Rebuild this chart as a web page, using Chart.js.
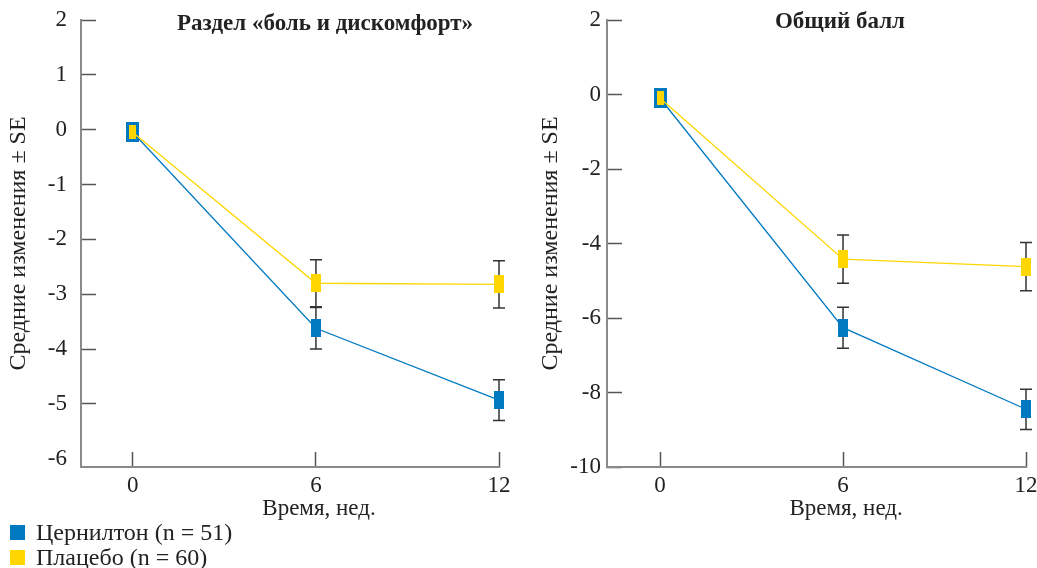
<!DOCTYPE html>
<html>
<head>
<meta charset="utf-8">
<script src="https://cdn.jsdelivr.net/npm/chart.js"></script>
<style>
    body { margin: 0; background: #fff; width: 1037px; height: 568px; position: relative; overflow: hidden;
           font-family: "Liberation Serif", "DejaVu Serif", serif; }
    #chartDolor { position: absolute; left: 0; top: 0; }
    #chartTotal { position: absolute; left: 532px; top: 0; }
    #legend { position: absolute; left: 10px; top: 520px; font-size: 24px; color: #222; }
    .item { display: flex; align-items: center; height: 25px; }
    .box { width: 15px; height: 15px; margin-right: 11px; }
</style>
</head>
<body>
<canvas id="chartDolor" width="520" height="520"></canvas>
<canvas id="chartTotal" width="505" height="520"></canvas>
<div id="legend"></div>
<script>
// ── DATOS ──
const weeks = [0, 6, 12];
const xTicks = [0, 6, 12];
const seriesNames = ["Цернилтон (n = 51)", "Плацебо (n = 60)"];
const seriesColors = ["#0079c1", "#ffd600"];

const painTitle = "Раздел «боль и дискомфорт»";
const painTicks = [-6, -5, -4, -3, -2, -1, 0, 1, 2];
const painCernilton = [-0.05, -3.62, -4.93];
const painCerniltonSE = [0, 0.38, 0.37];
const painPlacebo = [-0.05, -2.80, -2.82];
const painPlaceboSE = [0, 0.43, 0.43];

const totalTitle = "Общий балл";
const totalTicks = [-10, -8, -6, -4, -2, 0, 2];
const totalCernilton = [-0.10, -6.26, -8.45];
const totalCerniltonSE = [0, 0.55, 0.54];
const totalPlacebo = [-0.10, -4.42, -4.62];
const totalPlaceboSE = [0, 0.65, 0.65];

const yTitle = "Средние изменения ± SE";
const xTitle = "Время, нед.";

const FONT = "'Liberation Serif', 'DejaVu Serif', serif";
const TEXT = "#222";
const AXIS = "#8a8a8a";

// marcadores rectangulares (más altos que anchos)
function rectImg(w, h, color) {
    const c = document.createElement("canvas");
    c.width = w; c.height = h;
    const g = c.getContext("2d");
    g.fillStyle = color;
    g.fillRect(0, 0, w, h);
    return c;
}
const blueRect = rectImg(10, 18, seriesColors[0]);
const blueBig = rectImg(13, 20, seriesColors[0]);
const yellowRect = rectImg(10, 18, seriesColors[1]);
const yellowSmall = rectImg(7, 14, seriesColors[1]);

// ── barras de error ±SE ──
const errorBars = {
    id: "errorBars",
    beforeDatasetsDraw(chart) {
        const { ctx, scales: { y } } = chart;
        chart.data.datasets.forEach((ds, i) => {
            const meta = chart.getDatasetMeta(i);
            meta.data.forEach((pt, j) => {
                const se = ds.se[j];
                if (!se) return;
                const v = ds.data[j].y;
                const top = y.getPixelForValue(v + se);
                const bot = y.getPixelForValue(v - se);
                ctx.save();
                ctx.strokeStyle = "#333";
                ctx.lineWidth = 1.5;
                ctx.beginPath();
                ctx.moveTo(pt.x, top); ctx.lineTo(pt.x, bot);
                ctx.moveTo(pt.x - 6, top); ctx.lineTo(pt.x + 6, top);
                ctx.moveTo(pt.x - 6, bot); ctx.lineTo(pt.x + 6, bot);
                ctx.stroke();
                ctx.restore();
            });
        });
    }
};

// ── títulos (cerca de la semana 6) ──
const textos = {
    id: "textos",
    afterDraw(chart, args, opts) {
        const { ctx, scales: { x } } = chart;
        ctx.save();
        ctx.fillStyle = TEXT;
        ctx.textAlign = "center";
        ctx.textBaseline = "alphabetic";
        ctx.font = "bold 23px " + FONT;
        ctx.fillText(opts.title, x.getPixelForValue(opts.titleAt), opts.titleY);
        ctx.font = "23px " + FONT;
        ctx.fillText(xTitle, x.getPixelForValue(6.1), 515);
        ctx.restore();
    }
};

function serie(vals, se, color, styles, order) {
    return {
        data: weeks.map((w, i) => ({ x: w, y: vals[i] })),
        se: se,
        borderColor: color,
        backgroundColor: color,
        borderWidth: 1.3,
        pointStyle: styles,
        pointRadius: 9,
        order: order,
        clip: false
    };
}

function grafico(id, o) {
    return new Chart(document.getElementById(id), {
        type: "line",
        data: {
            datasets: [
                serie(o.blue, o.blueSE, seriesColors[0], [blueBig, blueRect, blueRect], 1),
                serie(o.yellow, o.yellowSE, seriesColors[1], [yellowSmall, yellowRect, yellowRect], 0)
            ]
        },
        options: {
            responsive: false,
            animation: false,
            layout: { padding: { top: 20, right: o.padRight, left: 0, bottom: 0 } },
            plugins: { legend: { display: false }, tooltip: { enabled: false },
                       textos: { title: o.title, titleY: o.titleY, titleAt: o.titleAt } },
            scales: {
                x: {
                    type: "linear", min: o.xMin, max: 12,
                    afterBuildTicks: s => { s.ticks = xTicks.map(v => ({ value: v })); },
                    afterFit: s => { s.height = 53; s.paddingLeft = 0; s.paddingRight = 0; },
                    border: { color: AXIS, width: 2 },
                    grid: { drawOnChartArea: false, tickLength: -15, tickColor: "#555", tickWidth: 1.5 },
                    ticks: { padding: 20, color: TEXT, font: { family: FONT, size: 23 }, maxRotation: 0 }
                },
                y: {
                    min: o.yMin, max: 2,
                    afterBuildTicks: s => { s.ticks = o.yTicks.map(v => ({ value: v })); },
                    afterFit: s => { s.width = o.axisW; s.paddingTop = 0; s.paddingBottom = 0; },
                    border: { color: AXIS, width: 2 },
                    grid: {
                        drawOnChartArea: false, tickLength: -15, tickWidth: 1.5,
                        tickColor: c => (c.tick && c.tick.value < -5.5 && o.yMin > -7) ? "rgba(0,0,0,0)" : "#555"
                    },
                    ticks: { padding: o.tickPad, color: TEXT, font: { family: FONT, size: 23 } },
                    title: { display: true, text: yTitle, color: TEXT, font: { family: FONT, size: 24 }, padding: { top: 4 } }
                }
            }
        },
        plugins: [errorBars, textos]
    });
}

grafico("chartDolor", {
    title: painTitle, titleY: 30, titleAt: 6.3, blue: painCernilton, blueSE: painCerniltonSE,
    yellow: painPlacebo, yellowSE: painPlaceboSE,
    yTicks: painTicks, yMin: -6.15, xMin: -1.7, axisW: 81, tickPad: 29, padRight: 21
});

grafico("chartTotal", {
    title: totalTitle, titleY: 28, titleAt: 5.9, blue: totalCernilton, blueSE: totalCerniltonSE,
    yellow: totalPlacebo, yellowSE: totalPlaceboSE,
    yTicks: totalTicks, yMin: -10, xMin: -1.74, axisW: 75, tickPad: 21, padRight: 11
});

// ── leyenda ──
const legend = document.getElementById("legend");
seriesNames.forEach((n, i) => {
    const it = document.createElement("div");
    it.className = "item";
    it.innerHTML = '<span class="box" style="background:' + seriesColors[i] + '"></span><span>' + n + "</span>";
    legend.appendChild(it);
});
</script>
</body>
</html>
